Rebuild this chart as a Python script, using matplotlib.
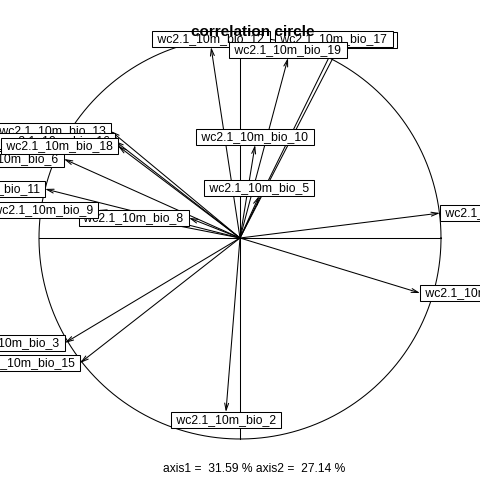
import numpy as np
import matplotlib
matplotlib.use("Agg")
from matplotlib import pyplot as plt

plt.rcParams['font.family'] = ['Liberation Sans', 'DejaVu Sans']

# variable names and their coordinates on the correlation circle
var_names = ['wc2.1_10m_bio_2', 'wc2.1_10m_bio_3', 'wc2.1_10m_bio_4',
             'wc2.1_10m_bio_5', 'wc2.1_10m_bio_6', 'wc2.1_10m_bio_7',
             'wc2.1_10m_bio_8', 'wc2.1_10m_bio_9', 'wc2.1_10m_bio_10',
             'wc2.1_10m_bio_11', 'wc2.1_10m_bio_12', 'wc2.1_10m_bio_13',
             'wc2.1_10m_bio_14', 'wc2.1_10m_bio_15', 'wc2.1_10m_bio_16',
             'wc2.1_10m_bio_17', 'wc2.1_10m_bio_18', 'wc2.1_10m_bio_19']
axis1 = [-0.070, -0.871, 0.995, 0.095, -0.876, 0.896, -0.254, -0.706, 0.075,
         -0.970, -0.144, -0.642, 0.488, -0.796, -0.622, 0.468, -0.607, 0.239]
axis2 = [-0.866, -0.522, 0.124, 0.209, 0.393, -0.274, 0.100, 0.139, 0.463,
         0.244, 0.950, 0.532, 0.945, -0.622, 0.483, 0.950, 0.458, 0.896]
inertia = [31.59, 27.14]

fig = plt.figure(figsize=(4.8, 4.8), dpi=100)
ax = fig.add_axes([0, 0, 1, 1])
ax.set_xlim(-240 / 201, 240 / 201)
ax.set_ylim(-242 / 201, 238 / 201)
ax.axis('off')

lw = 0.75
t = np.linspace(0, 2 * np.pi, 400)
ax.plot(np.cos(t), np.sin(t), color='black', lw=lw)
ax.plot([-1, 1], [0, 0], color='black', lw=lw)
ax.plot([0, 0], [-1, 1], color='black', lw=lw)

for x, y in zip(axis1, axis2):
    ax.annotate('', xy=(x, y), xytext=(0, 0),
                arrowprops=dict(arrowstyle='->,head_length=5,head_width=1.4',
                                mutation_scale=1, lw=lw, color='black',
                                shrinkA=0, shrinkB=0), zorder=2)

fs = 8.8
pad = 0.16 * fs
for i, (name, x, y) in enumerate(zip(var_names, axis1, axis2)):
    if abs(x) > abs(y):
        ha = 'left' if x > 0 else 'right'
        va = 'center'
        off = (pad if x > 0 else -pad, 0)
    else:
        ha = 'center'
        va = 'bottom' if y > 0 else 'top'
        off = (0, pad if y > 0 else -pad)
    ax.annotate(' ' + name + ' ', xy=(x, y), xytext=off,
                textcoords='offset points', ha=ha, va=va, fontsize=fs,
                color='black', zorder=3 + i, annotation_clip=False,
                bbox=dict(boxstyle='square,pad=0.16', fc='white',
                          ec='black', lw=lw))

fig.text(253 / 480, 1 - 32 / 480, 'correlation circle', ha='center',
         va='center', fontsize=11, fontweight='bold', zorder=100)
fig.text(254 / 480, 1 - 469 / 480,
         'axis1 =  %.2f %% axis2 =  %.2f %%' % (inertia[0], inertia[1]),
         ha='center', va='center', fontsize=8.64)

fig.savefig('out.png', dpi=100)
